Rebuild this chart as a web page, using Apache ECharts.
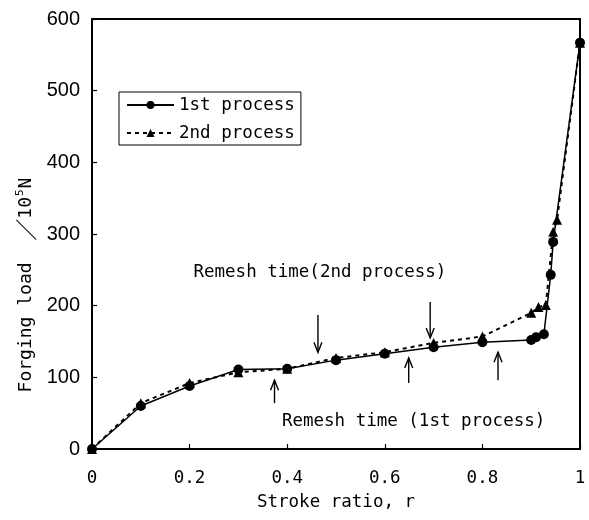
<!DOCTYPE html>
<html>
<head>
<meta charset="utf-8">
<script src="https://cdn.jsdelivr.net/npm/echarts@6/dist/echarts.min.js"></script>
<style>html,body{margin:0;padding:0;background:#fff}#c{width:589px;height:520px}</style>
</head>
<body>
<div id="c"></div>
<script>
// Data
var strokeFirst  = [0, 0.1, 0.2, 0.3, 0.4, 0.5, 0.6, 0.7, 0.8, 0.9, 0.91, 0.926, 0.94, 0.945, 1.0];
var loadFirst    = [0, 60, 88, 111, 112, 124, 133, 142, 149, 152, 156, 160, 243, 289, 567];
var strokeSecond = [0, 0.1, 0.2, 0.3, 0.4, 0.5, 0.6, 0.7, 0.8, 0.9, 0.915, 0.93, 0.945, 0.953, 1.0];
var loadSecond   = [0, 64, 92, 107, 112, 127, 135, 148, 157, 190, 198, 201, 303, 320, 567];
var seriesNames  = ['1st process', '2nd process'];
// remesh arrows: x, tail load, tip load
var remeshSecond = [[0.463, 187, 135], [0.693, 205, 155]];
var remeshFirst  = [[0.374, 64, 96], [0.649, 92, 127], [0.832, 96, 135]];
var noteX    = [0.467, 0.659];
var noteY    = [246, 38];
var noteText = ['Remesh time(2nd process)', 'Remesh time (1st process)'];
var xTicks = [0, 0.2, 0.4, 0.6, 0.8, 1];
var yTicks = [0, 100, 200, 300, 400, 500, 600];

var mono = '"DejaVu Sans Mono", "Liberation Mono", monospace';
var FS = 17.5;
function zip(a, b) { return a.map(function (v, i) { return [v, b[i]]; }); }

function arrowItem(params, api) {
  var p1 = api.coord([api.value(0), api.value(1)]);
  var p2 = api.coord([api.value(0), api.value(2)]);
  var dir = p1[1] > p2[1] ? 1 : -1;
  var st = { stroke: '#000', lineWidth: 1.4, fill: null };
  return { type: 'group', children: [
    { type: 'line', shape: { x1: p1[0], y1: p1[1], x2: p2[0], y2: p2[1] }, style: st },
    { type: 'polyline', shape: { points: [[p2[0] - 4, p2[1] + dir * 10], [p2[0], p2[1]], [p2[0] + 4, p2[1] + dir * 10]] }, style: st }
  ]};
}

var chart = echarts.init(document.getElementById('c'), null, { renderer: 'canvas' });
chart.setOption({
  animation: false,
  backgroundColor: '#fff',
  grid: { left: 92, right: 9, top: 19, bottom: 71, show: true, borderColor: '#000', borderWidth: 2, backgroundColor: 'transparent' },
  legend: {
    orient: 'vertical', left: 119, top: 92,
    data: seriesNames,
    itemWidth: 47, itemHeight: 10, itemGap: 10, itemTextGap: 5,
    padding: [4, 6, 3, 7],
    borderColor: '#000', borderWidth: 1,
    textStyle: { fontFamily: mono, fontSize: FS, color: '#000' }
  },
  xAxis: {
    type: 'value', min: xTicks[0], max: xTicks[xTicks.length - 1], interval: 0.2,
    name: 'Stroke ratio, r', nameLocation: 'middle', nameGap: 44,
    nameTextStyle: { fontFamily: mono, fontSize: FS, color: '#000' },
    axisLine: { lineStyle: { color: '#000', width: 2 } },
    axisTick: { inside: true, length: 5, lineStyle: { color: '#000', width: 1.2 } },
    axisLabel: { margin: 20, fontFamily: mono, fontSize: FS, color: '#000' },
    splitLine: { show: false }
  },
  yAxis: {
    type: 'value', min: yTicks[0], max: yTicks[yTicks.length - 1], interval: 100,
    axisLine: { lineStyle: { color: '#000', width: 2 } },
    axisTick: { inside: true, length: 5, lineStyle: { color: '#000', width: 1.2 } },
    axisLabel: { margin: 12, fontFamily: '"Liberation Sans", Arial, sans-serif', fontSize: 20, color: '#000' },
    splitLine: { show: false }
  },
  graphic: [{
    type: 'text', x: 26, y: 285, rotation: Math.PI / 2,
    style: {
      text: '{a|Forging load  }{s|／}{a|10}{p|5}{a|N}',
      align: 'center', verticalAlign: 'middle',
      rich: {
        a: { fontFamily: mono, fontSize: 18, color: '#000' },
        s: { fontFamily: '"Noto Sans CJK JP", sans-serif', fontSize: 22, color: '#000' },
        p: { fontFamily: mono, fontSize: 11, color: '#000', verticalAlign: 'top', padding: [0, 1, 8, 1] }
      }
    }
  }],
  series: [
    {
      name: seriesNames[1], type: 'line', data: zip(strokeSecond, loadSecond),
      symbol: 'triangle', symbolSize: 10, itemStyle: { color: '#000' },
      lineStyle: { color: '#000', width: 2, type: [4, 4] }, z: 3
    },
    {
      name: seriesNames[0], type: 'line', data: zip(strokeFirst, loadFirst),
      symbol: 'circle', symbolSize: 10, itemStyle: { color: '#000' },
      lineStyle: { color: '#000', width: 1.5 }, z: 4
    },
    {
      type: 'custom', data: remeshSecond.concat(remeshFirst), renderItem: arrowItem,
      encode: { x: 0, y: [1, 2] }, silent: true, z: 5
    },
    {
      type: 'custom', data: zip(noteX, noteY), silent: true, z: 5,
      renderItem: function (params, api) {
        var p = api.coord([api.value(0), api.value(1)]);
        return { type: 'text', x: p[0], y: p[1],
          style: { text: noteText[params.dataIndex], font: FS + 'px ' + mono, fill: '#000', align: 'center', verticalAlign: 'middle' } };
      }
    }
  ]
});
</script>
</body>
</html>
